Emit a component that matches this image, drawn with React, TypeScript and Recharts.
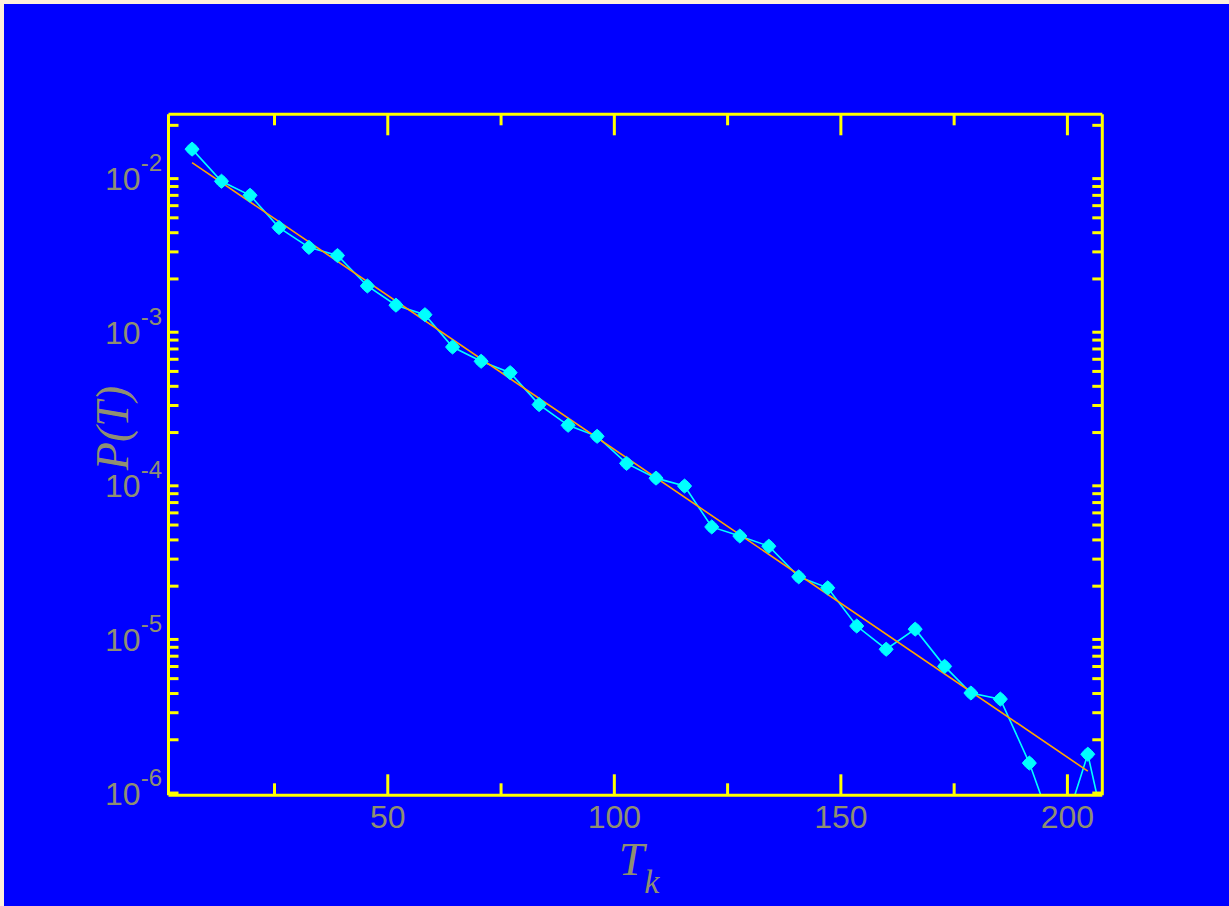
import { Line, LineChart, XAxis, YAxis } from 'recharts'

const BLUE = '#0000ff'
const YELLOW = '#ffff00'
const CYAN = '#00ffff'
const ORANGE = '#ffa500'
const LABEL = '#8f8f72'

// T_k bin positions and measured P(T)
const tValues = [
  6.8, 13.3, 19.6, 26.0, 32.6, 38.9, 45.5, 51.8, 58.2, 64.3, 70.6, 77.0, 83.4, 89.8, 96.2, 102.7,
  109.2, 115.5, 121.5, 127.7, 134.1, 140.7, 147.1, 153.5, 160.0, 166.4, 172.9, 178.7, 185.2, 191.6,
  198.1, 204.5, 210.9,
]
const pValues = [
  1.4e-2, 8.65e-3, 7.01e-3, 4.32e-3, 3.21e-3, 2.84e-3, 1.8e-3, 1.35e-3, 1.17e-3, 7.21e-4, 5.82e-4,
  4.91e-4, 3.04e-4, 2.23e-4, 1.89e-4, 1.26e-4, 1.01e-4, 8.97e-5, 4.86e-5, 4.24e-5, 3.64e-5, 2.3e-5,
  1.95e-5, 1.1e-5, 7.77e-6, 1.05e-5, 6.01e-6, 4.03e-6, 3.68e-6, 1.41e-6, 4.1e-7, 1.61e-6, 2.3e-7,
]

// exponential fit (straight on log axis)
const fitT = [6.8, 204.5]
const fitP = [1.145e-2, 1.25e-6]

const xTicks = [25, 50, 75, 100, 125, 150, 175, 200]
const xMajor = [50, 100, 150, 200]
const yTicks = [
  9e-7,
  1e-6, 2e-6, 3e-6, 4e-6, 5e-6, 6e-6, 7e-6, 8e-6, 9e-6,
  1e-5, 2e-5, 3e-5, 4e-5, 5e-5, 6e-5, 7e-5, 8e-5, 9e-5,
  1e-4, 2e-4, 3e-4, 4e-4, 5e-4, 6e-4, 7e-4, 8e-4, 9e-4,
  1e-3, 2e-3, 3e-3, 4e-3, 5e-3, 6e-3, 7e-3, 8e-3, 9e-3,
  1e-2, 2e-2,
]

const X_DOMAIN: [number, number] = [1.6, 207.7]
const Y_DOMAIN: [number, number] = [8.7e-7, 0.0236]

const pointData = tValues.map((t, i) => ({ t, p: pValues[i] }))
const fitData = fitT.map((t, i) => ({ t, fit: fitP[i] }))

const isDecade = (v: number) => Math.abs(Math.log10(v) - Math.round(Math.log10(v))) < 1e-9

function LeftTick({ x, y, payload }: any) {
  const v = payload.value
  if (isDecade(v)) {
    return (
      <text x={x - 6.5} y={y + 18.7} textAnchor="end" fill={LABEL} fontFamily="Liberation Sans" fontSize={32}>
        10
        <tspan dy={-19} fontSize={24}>{`${Math.round(Math.log10(v))}`}</tspan>
      </text>
    )
  }
  return <line x1={x} x2={x + 10} y1={y} y2={y} stroke={YELLOW} strokeWidth={3} />
}

function RightTick({ x, y, payload }: any) {
  if (isDecade(payload.value)) return <g />
  return <line x1={x} x2={x - 10} y1={y} y2={y} stroke={YELLOW} strokeWidth={3} />
}

function BottomTick({ x, y, payload }: any) {
  const major = xMajor.includes(payload.value)
  return (
    <g>
      <line x1={x} x2={x} y1={y} y2={y - (major ? 21 : 12)} stroke={YELLOW} strokeWidth={3} />
      {major && (
        <text x={x} y={y + 32.7} textAnchor="middle" fill={LABEL} fontFamily="Liberation Sans" fontSize={32}>
          {payload.value}
        </text>
      )}
    </g>
  )
}

function TopTick({ x, y, payload }: any) {
  const major = xMajor.includes(payload.value)
  return <line x1={x} x2={x} y1={y} y2={y + (major ? 21 : 11)} stroke={YELLOW} strokeWidth={3} />
}

function YTitle({ viewBox }: any) {
  const cx = viewBox.x + viewBox.width - 41
  const cy = viewBox.y + viewBox.height / 2 - 26.8
  return (
    <text
      x={cx}
      y={cy}
      transform={`rotate(-90 ${cx} ${cy})`}
      textAnchor="middle"
      fill={LABEL}
      fontFamily="Liberation Serif"
      fontStyle="italic"
      fontSize={46}
    >
      P(T)
    </text>
  )
}

function XTitle({ viewBox }: any) {
  const cx = viewBox.x + viewBox.width / 2 + 3.6
  const cy = viewBox.y + 79.7
  return (
    <text x={cx} y={cy} textAnchor="middle" fill={LABEL} fontFamily="Liberation Serif" fontStyle="italic" fontSize={46}>
      T
      <tspan dy={18} fontSize={34}>k</tspan>
    </text>
  )
}

function Star({ cx, cy }: any) {
  if (cx == null || cy == null) return <g />
  const r = 7
  const w = 3.8
  const d = `M${cx},${cy - r} L${cx + w},${cy - w} L${cx + r},${cy} L${cx + w},${cy + w} L${cx},${cy + r} L${cx - w},${cy + w} L${cx - r},${cy} L${cx - w},${cy - w} Z`
  return <path d={d} fill={CYAN} stroke={CYAN} strokeWidth={1} />
}

export default function App() {
  return (
    <div
      style={{
        position: 'fixed',
        inset: 0,
        boxSizing: 'border-box',
        background: BLUE,
        borderTop: '4px solid #fdf0dc',
        borderLeft: '4px solid #fdf0dc',
        overflow: 'hidden',
      }}
    >
      <LineChart width={1225} height={902} margin={{ top: 100.3, right: 116.7, bottom: 50.7, left: 64.5 }}>
        <XAxis
          xAxisId="b"
          type="number"
          dataKey="t"
          domain={X_DOMAIN}
          allowDataOverflow
          ticks={xTicks}
          interval={0}
          height={60}
          axisLine={{ stroke: YELLOW, strokeWidth: 3 }}
          tickLine={false}
          tickSize={0}
          tickMargin={0}
          tick={(p: any) => <BottomTick {...p} />}
          label={<XTitle />}
        />
        <XAxis
          xAxisId="t"
          orientation="top"
          type="number"
          dataKey="t"
          domain={X_DOMAIN}
          allowDataOverflow
          ticks={xTicks}
          interval={0}
          height={10}
          axisLine={{ stroke: YELLOW, strokeWidth: 3 }}
          tickLine={false}
          tickSize={0}
          tickMargin={0}
          tick={(p: any) => <TopTick {...p} />}
        />
        <YAxis
          yAxisId="l"
          type="number"
          scale="log"
          domain={Y_DOMAIN}
          allowDataOverflow
          ticks={yTicks}
          interval={0}
          width={100}
          axisLine={{ stroke: YELLOW, strokeWidth: 3 }}
          tickLine={false}
          tickSize={0}
          tickMargin={0}
          tick={(p: any) => <LeftTick {...p} />}
          label={<YTitle />}
        />
        <YAxis
          yAxisId="r"
          orientation="right"
          type="number"
          scale="log"
          domain={Y_DOMAIN}
          allowDataOverflow
          ticks={yTicks}
          interval={0}
          width={10}
          axisLine={{ stroke: YELLOW, strokeWidth: 3 }}
          tickLine={false}
          tickSize={0}
          tickMargin={0}
          tick={(p: any) => <RightTick {...p} />}
        />
        <Line
          xAxisId="b"
          yAxisId="l"
          data={pointData}
          dataKey="p"
          type="linear"
          stroke={CYAN}
          strokeWidth={1.6}
          dot={(p: any) => <Star key={`s${p.index}`} {...p} />}
          activeDot={false}
          isAnimationActive={false}
        />
        <Line
          xAxisId="t"
          yAxisId="r"
          data={fitData}
          dataKey="fit"
          type="linear"
          stroke={ORANGE}
          strokeWidth={1.6}
          dot={false}
          activeDot={false}
          isAnimationActive={false}
        />
      </LineChart>
    </div>
  )
}
